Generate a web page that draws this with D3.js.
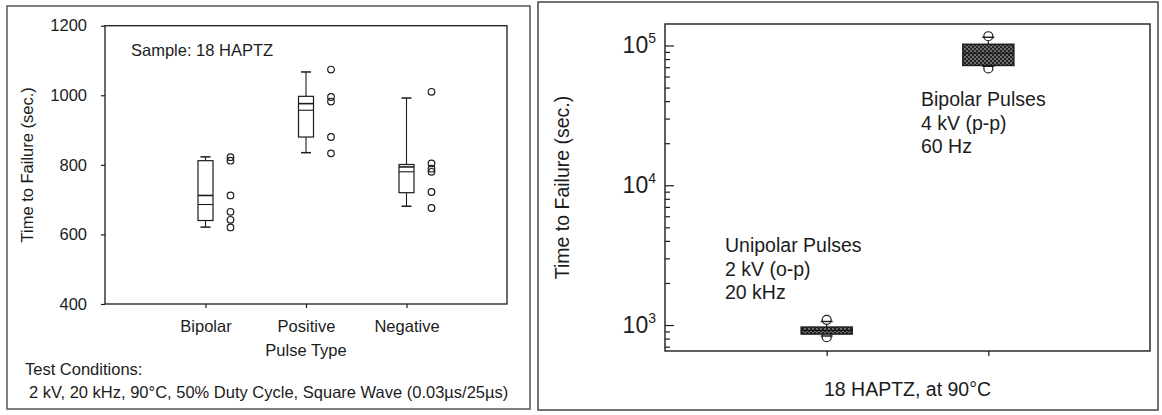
<!DOCTYPE html>
<html>
<head>
<meta charset="utf-8">
<script src="https://cdn.jsdelivr.net/npm/d3@7"></script>
<style>
  html, body { margin: 0; padding: 0; background: #fff; }
  svg { display: block; font-family: "Liberation Sans", Arial, Helvetica, sans-serif; }
  text { fill: #1c1c1c; }
</style>
</head>
<body>
<svg id="chart" width="1162" height="415"></svg>
<script>
// ---- Left panel: time to failure by pulse type (18 HAPTZ) ----
const pulseTypes = ["Bipolar", "Positive", "Negative"];
const bipolarTimes  = [822, 812, 712, 665, 642, 620];
const positiveTimes = [1074, 995, 982, 880, 833];
const negativeTimes = [1010, 804, 789, 780, 722, 676];
const whiskerLow  = [621, 835, 681];
const quartile1   = [640, 880, 720];
const medianLine  = [686, 957, 780];
const meanLine    = [712, 976, 794];
const quartile3   = [812, 997, 801];
const whiskerHigh = [823, 1067, 992];
const leftTicks = [400, 600, 800, 1000, 1200];

// ---- Right panel: unipolar vs bipolar pulses, log time axis ----
const pulseGroups = ["Unipolar", "Bipolar"];
const groupWhiskerLow  = [835, 71000];
const groupQ1          = [862, 72000];
const groupMedian      = [915, 88000];
const groupQ3          = [967, 102000];
const groupWhiskerHigh = [1060, 114500];
const groupOutliers    = [[1090, 818], [116500, 68500]];
const rightTicks = [1e3, 1e4, 1e5];
const rightMinorTicks = [700, 800, 900, 2e3, 3e3, 4e3, 5e3, 6e3, 7e3, 8e3, 9e3,
                         2e4, 3e4, 4e4, 5e4, 6e4, 7e4, 8e4, 9e4];

const ink = "#1c1c1c";
const leftFont = 16.5;
const rightFont = 19.5;
const svg = d3.select("#chart");

// hatch used to fill the right-panel boxes
const defs = svg.append("defs");
const pat = defs.append("pattern").attr("id", "hatch")
  .attr("patternUnits", "userSpaceOnUse").attr("width", 4).attr("height", 4);
pat.append("rect").attr("width", 4).attr("height", 4).attr("fill", "#222");
pat.append("circle").attr("cx", 1).attr("cy", 1).attr("r", 0.75).attr("fill", "#ddd");
pat.append("circle").attr("cx", 3).attr("cy", 3).attr("r", 0.75).attr("fill", "#ddd");

// panel frames
svg.append("rect").attr("x", 7).attr("y", 6).attr("width", 523).attr("height", 403)
  .attr("fill", "none").attr("stroke", "#555").attr("stroke-width", 1.5);
svg.append("rect").attr("x", 538).attr("y", 2).attr("width", 620).attr("height", 408)
  .attr("fill", "none").attr("stroke", "#444").attr("stroke-width", 1.5);

// ================= left panel =================
const L = { x0: 105, x1: 507, y0: 304, y1: 25.7 };
const xL = d3.scalePoint().domain(pulseTypes).range([L.x0, L.x1]).padding(1);
const yL = d3.scaleLinear().domain([400, 1200]).range([L.y0, L.y1]);

const gL = svg.append("g");
gL.append("rect").attr("x", L.x0).attr("y", L.y1).attr("width", L.x1 - L.x0).attr("height", L.y0 - L.y1)
  .attr("fill", "none").attr("stroke", ink).attr("stroke-width", 1.3);

const axL = gL.append("g").attr("transform", `translate(${L.x0},0)`)
  .call(d3.axisLeft(yL).tickValues(leftTicks).tickSize(4).tickPadding(14).tickFormat(d3.format("d")));
const axLB = gL.append("g").attr("transform", `translate(0,${L.y0})`)
  .call(d3.axisBottom(xL).tickSize(4).tickPadding(12));
[axL, axLB].forEach(a => {
  a.select(".domain").remove();
  a.selectAll("line").attr("stroke", ink).attr("stroke-width", 1.2);
  a.selectAll("text").attr("font-size", leftFont).attr("font-family", "Liberation Sans, Arial, sans-serif").attr("fill", ink);
});

const boxW = 15;
pulseTypes.forEach((c, i) => {
  const cx = xL(c);
  const g = gL.append("g");
  g.append("line").attr("x1", cx).attr("x2", cx).attr("y1", yL(whiskerHigh[i])).attr("y2", yL(quartile3[i]))
    .attr("stroke", ink).attr("stroke-width", 1.1);
  g.append("line").attr("x1", cx).attr("x2", cx).attr("y1", yL(quartile1[i])).attr("y2", yL(whiskerLow[i]))
    .attr("stroke", ink).attr("stroke-width", 1.1);
  [whiskerHigh[i], whiskerLow[i]].forEach(v => {
    g.append("line").attr("x1", cx - 5).attr("x2", cx + 5).attr("y1", yL(v)).attr("y2", yL(v))
      .attr("stroke", ink).attr("stroke-width", 1.5);
  });
  g.append("rect").attr("x", cx - boxW / 2).attr("y", yL(quartile3[i]))
    .attr("width", boxW).attr("height", yL(quartile1[i]) - yL(quartile3[i]))
    .attr("fill", "none").attr("stroke", ink).attr("stroke-width", 1.2);
  g.append("line").attr("x1", cx - boxW / 2).attr("x2", cx + boxW / 2)
    .attr("y1", yL(meanLine[i])).attr("y2", yL(meanLine[i])).attr("stroke", ink).attr("stroke-width", 1.6);
  g.append("line").attr("x1", cx - boxW / 2).attr("x2", cx + boxW / 2)
    .attr("y1", yL(medianLine[i])).attr("y2", yL(medianLine[i])).attr("stroke", ink).attr("stroke-width", 1.1);
});

[bipolarTimes, positiveTimes, negativeTimes].forEach((vals, i) => {
  gL.append("g").selectAll("circle").data(vals).join("circle")
    .attr("cx", xL(pulseTypes[i]) + 25).attr("cy", d => yL(d)).attr("r", 3.3)
    .attr("fill", "none").attr("stroke", ink).attr("stroke-width", 1.2);
});

gL.append("text").attr("x", 131).attr("y", 56).attr("font-size", leftFont).text("Sample: 18 HAPTZ");
gL.append("text").attr("transform", `translate(33,${(L.y0 + L.y1) / 2}) rotate(-90)`)
  .attr("text-anchor", "middle").attr("font-size", leftFont).text("Time to Failure (sec.)");
gL.append("text").attr("x", xL("Positive")).attr("y", 356).attr("text-anchor", "middle")
  .attr("font-size", leftFont).text("Pulse Type");
gL.append("text").attr("x", 25).attr("y", 375).attr("font-size", leftFont).text("Test Conditions:");
gL.append("text").attr("x", 29).attr("y", 398).attr("font-size", leftFont)
  .text("2 kV, 20 kHz, 90°C, 50% Duty Cycle, Square Wave (0.03µs/25µs)");

// ================= right panel =================
const R = { x0: 665, x1: 1150, y0: 351, y1: 24 };
const xR = d3.scalePoint().domain(pulseGroups).range([R.x0, R.x1]).padding(1);
const yR = d3.scaleLog().domain([652, 142500]).range([R.y0, R.y1]);

const gR = svg.append("g");
gR.append("rect").attr("x", R.x0).attr("y", R.y1).attr("width", R.x1 - R.x0).attr("height", R.y0 - R.y1)
  .attr("fill", "none").attr("stroke", ink).attr("stroke-width", 1.4);

// inward log ticks
const axRMinor = gR.append("g").attr("transform", `translate(${R.x0},0)`)
  .call(d3.axisRight(yR).tickValues(rightMinorTicks).tickSize(5).tickFormat(""));
const axRMajor = gR.append("g").attr("transform", `translate(${R.x0},0)`)
  .call(d3.axisRight(yR).tickValues(rightTicks).tickSize(9).tickFormat(""));
const axRB = gR.append("g").attr("transform", `translate(0,${R.y0})`)
  .call(d3.axisBottom(xR).tickSize(5).tickFormat(""));
[axRMinor, axRMajor, axRB].forEach(a => {
  a.select(".domain").remove();
  a.selectAll("line").attr("stroke", ink).attr("stroke-width", 1.2);
});

// decade labels 10^n
rightTicks.forEach(v => {
  const t = gR.append("text").attr("x", 656).attr("y", yR(v) + 8).attr("text-anchor", "end")
    .attr("font-size", 23);
  t.append("tspan").text("10");
  t.append("tspan").attr("dy", -10).attr("font-size", 14).text(Math.round(Math.log10(v)));
});

pulseGroups.forEach((c, i) => {
  const cx = xR(c);
  const bw = 51;
  const g = gR.append("g");
  g.append("line").attr("x1", cx).attr("x2", cx).attr("y1", yR(groupWhiskerHigh[i])).attr("y2", yR(groupWhiskerLow[i]))
    .attr("stroke", ink).attr("stroke-width", 1.2);
  groupOutliers[i].forEach(v => {
    g.append("circle").attr("cx", cx).attr("cy", yR(v)).attr("r", 4.5)
      .attr("fill", "#fff").attr("stroke", ink).attr("stroke-width", 1.2);
  });
  [groupWhiskerHigh[i], groupWhiskerLow[i]].forEach(v => {
    g.append("line").attr("x1", cx - 6).attr("x2", cx + 6).attr("y1", yR(v)).attr("y2", yR(v))
      .attr("stroke", ink).attr("stroke-width", 1.4);
  });
  g.append("rect").attr("x", cx - bw / 2).attr("y", yR(groupQ3[i]))
    .attr("width", bw).attr("height", yR(groupQ1[i]) - yR(groupQ3[i]))
    .attr("fill", "url(#hatch)").attr("stroke", ink).attr("stroke-width", 1.5);
  g.append("line").attr("x1", cx - bw / 2).attr("x2", cx + bw / 2)
    .attr("y1", yR(groupMedian[i])).attr("y2", yR(groupMedian[i]))
    .attr("stroke", "#111").attr("stroke-width", 1);
});

const noteR = (x, y, lines) => lines.forEach((s, k) =>
  gR.append("text").attr("x", x).attr("y", y + k * 23.5).attr("font-size", rightFont).text(s));
noteR(921, 106, ["Bipolar Pulses", "4 kV (p-p)", "60 Hz"]);
noteR(725, 252, ["Unipolar Pulses", "2 kV (o-p)", "20 kHz"]);

gR.append("text").attr("transform", `translate(569,${(R.y0 + R.y1) / 2}) rotate(-90)`)
  .attr("text-anchor", "middle").attr("font-size", rightFont).text("Time to Failure (sec.)");
gR.append("text").attr("x", (R.x0 + R.x1) / 2).attr("y", 396).attr("text-anchor", "middle")
  .attr("font-size", rightFont).text("18 HAPTZ, at 90°C");
</script>
</body>
</html>
